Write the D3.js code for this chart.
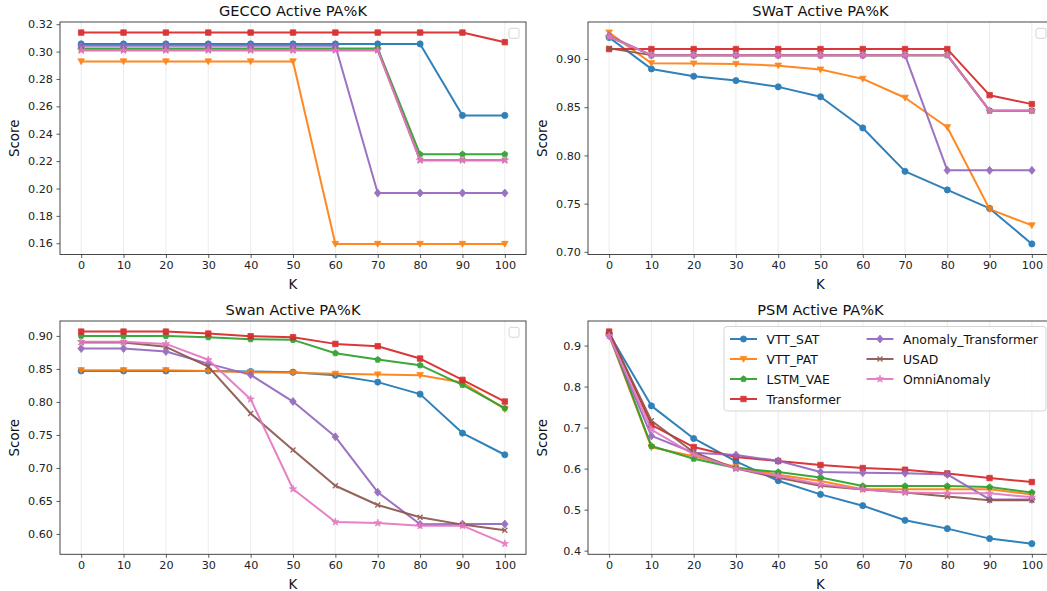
<!DOCTYPE html>
<html lang="en">
	<head>
		<meta charset="utf-8">
		<title>Active PA%K</title>
		<script type="text/javascript" src="https://cdn.jsdelivr.net/npm/d3@7"></script>
		<style type="text/css">
			body { margin: 0; background: #fff; }
			svg { font-family: "DejaVu Sans", sans-serif; display: block; }
		</style>
	</head>
	<body>
		<script type="text/javascript">

			// K values on the x axis
			var kValues = [0, 10, 20, 30, 40, 50, 60, 70, 80, 90, 100];
			var xTicks = [0, 10, 20, 30, 40, 50, 60, 70, 80, 90, 100];

			var seriesNames = ["VTT_SAT", "VTT_PAT", "LSTM_VAE", "Transformer", "Anomaly_Transformer", "USAD", "OmniAnomaly"];
			var seriesColors = ["#1f77b4", "#ff7f0e", "#2ca02c", "#d62728", "#9467bd", "#8c564b", "#e377c2"];
			var seriesMarkers = ["circle", "tri", "penta", "square", "diamond", "x", "star"];

			// GECCO
			var geccoSAT = [0.3056, 0.3056, 0.3056, 0.3056, 0.3056, 0.3056, 0.3056, 0.3056, 0.3056, 0.2534, 0.2534];
			var geccoPAT = [0.2928, 0.2928, 0.2928, 0.2928, 0.2928, 0.2928, 0.1595, 0.1595, 0.1595, 0.1595, 0.1595];
			var geccoLSTM = [0.3023, 0.3023, 0.3023, 0.3023, 0.3023, 0.3023, 0.3023, 0.3023, 0.2250, 0.2250, 0.2250];
			var geccoTrans = [0.3139, 0.3139, 0.3139, 0.3139, 0.3139, 0.3139, 0.3139, 0.3139, 0.3139, 0.3139, 0.3069];
			var geccoAT = [0.3042, 0.3042, 0.3042, 0.3042, 0.3042, 0.3042, 0.3042, 0.1967, 0.1967, 0.1967, 0.1967];
			var geccoUSAD = [0.3010, 0.3010, 0.3010, 0.3010, 0.3010, 0.3010, 0.3010, 0.3010, 0.2206, 0.2206, 0.2206];
			var geccoOmni = [0.3010, 0.3010, 0.3010, 0.3010, 0.3010, 0.3010, 0.3010, 0.3010, 0.2206, 0.2206, 0.2206];
			var geccoTicks = [0.16, 0.18, 0.20, 0.22, 0.24, 0.26, 0.28, 0.30, 0.32];

			// SWaT
			var swatSAT = [0.9223, 0.8897, 0.8821, 0.8776, 0.8711, 0.8608, 0.8285, 0.7835, 0.7642, 0.7450, 0.7082];
			var swatPAT = [0.9274, 0.8956, 0.8952, 0.8948, 0.8931, 0.8890, 0.8794, 0.8598, 0.8292, 0.7443, 0.7274];
			var swatLSTM = [0.9230, 0.9040, 0.9040, 0.9040, 0.9040, 0.9040, 0.9040, 0.9040, 0.9040, 0.8464, 0.8464];
			var swatTrans = [0.9103, 0.9103, 0.9103, 0.9103, 0.9103, 0.9103, 0.9103, 0.9103, 0.9103, 0.8625, 0.8532];
			var swatAT = [0.9240, 0.9040, 0.9040, 0.9040, 0.9040, 0.9040, 0.9040, 0.9040, 0.7845, 0.7845, 0.7845];
			var swatUSAD = [0.9110, 0.9040, 0.9040, 0.9040, 0.9040, 0.9040, 0.9040, 0.9040, 0.9040, 0.8464, 0.8464];
			var swatOmni = [0.9230, 0.9040, 0.9040, 0.9040, 0.9040, 0.9040, 0.9040, 0.9040, 0.9040, 0.8464, 0.8464];
			var swatTicks = [0.70, 0.75, 0.80, 0.85, 0.90];

			// Swan
			var swanSAT = [0.847, 0.847, 0.847, 0.847, 0.846, 0.845, 0.8405, 0.830, 0.8118, 0.7528, 0.720];
			var swanPAT = [0.848, 0.848, 0.848, 0.847, 0.845, 0.844, 0.8425, 0.8415, 0.8405, 0.8294, 0.789];
			var swanLSTM = [0.900, 0.900, 0.900, 0.898, 0.895, 0.894, 0.8738, 0.8641, 0.8556, 0.8259, 0.7906];
			var swanTrans = [0.9065, 0.9065, 0.9065, 0.9035, 0.8995, 0.898, 0.8879, 0.8844, 0.8657, 0.8334, 0.8006];
			var swanAT = [0.8808, 0.8808, 0.8763, 0.858, 0.841, 0.8006, 0.7472, 0.6633, 0.6147, 0.615, 0.615];
			var swanUSAD = [0.890, 0.890, 0.8834, 0.8535, 0.7825, 0.7271, 0.6731, 0.6439, 0.6253, 0.6142, 0.6057];
			var swanOmni = [0.891, 0.891, 0.8879, 0.8638, 0.8042, 0.6681, 0.6181, 0.6166, 0.6126, 0.6126, 0.5853];
			var swanTicks = [0.60, 0.65, 0.70, 0.75, 0.80, 0.85, 0.90];

			// PSM
			var psmSAT = [0.929, 0.753, 0.6735, 0.6175, 0.5705, 0.5372, 0.5097, 0.474, 0.4537, 0.4294, 0.417];
			var psmPAT = [0.925, 0.652, 0.630, 0.604, 0.585, 0.570, 0.550, 0.550, 0.550, 0.550, 0.537];
			var psmLSTM = [0.928, 0.655, 0.6241, 0.6014, 0.5916, 0.5785, 0.5575, 0.5575, 0.5575, 0.555, 0.542];
			var psmTrans = [0.934, 0.7069, 0.6526, 0.6282, 0.6185, 0.6087, 0.6014, 0.5973, 0.5883, 0.577, 0.5673];
			var psmAT = [0.924, 0.6797, 0.6387, 0.633, 0.619, 0.5916, 0.590, 0.589, 0.5858, 0.525, 0.525];
			var psmUSAD = [0.930, 0.7166, 0.640, 0.600, 0.578, 0.558, 0.549, 0.542, 0.532, 0.523, 0.523];
			var psmOmni = [0.9236, 0.695, 0.635, 0.600, 0.582, 0.562, 0.550, 0.542, 0.540, 0.540, 0.530];
			var psmTicks = [0.4, 0.5, 0.6, 0.7, 0.8, 0.9];

			var w = 1047;
			var h = 591;

			var panels = [
				{ title: "GECCO Active PA%K", series: [geccoSAT, geccoPAT, geccoLSTM, geccoTrans, geccoAT, geccoUSAD, geccoOmni], ticks: geccoTicks, fmt: ".2f", x0: 60, x1: 526, y0: 22, y1: 254.5, legend: false },
				{ title: "SWaT Active PA%K", series: [swatSAT, swatPAT, swatLSTM, swatTrans, swatAT, swatUSAD, swatOmni], ticks: swatTicks, fmt: ".2f", x0: 588, x1: 1053, y0: 22, y1: 254.5, legend: false },
				{ title: "Swan Active PA%K", series: [swanSAT, swanPAT, swanLSTM, swanTrans, swanAT, swanUSAD, swanOmni], ticks: swanTicks, fmt: ".2f", x0: 60, x1: 526, y0: 321, y1: 554.3, legend: false },
				{ title: "PSM Active PA%K", series: [psmSAT, psmPAT, psmLSTM, psmTrans, psmAT, psmUSAD, psmOmni], ticks: psmTicks, fmt: ".1f", x0: 588, x1: 1053, y0: 321, y1: 554.3, legend: true }
			];

			var svg = d3.select("body")
				.append("svg")
				.attr("width", w)
				.attr("height", h);

			// marker paths, centred on 0,0
			function markerPath(kind) {
				if (kind == "circle") return d3.symbol(d3.symbolCircle, 30)();
				if (kind == "square") return d3.symbol(d3.symbolSquare, 30)();
				if (kind == "star") return d3.symbol(d3.symbolStar, 17)();
				if (kind == "tri") return "M-3.3,-2.6L3.3,-2.6L0,3.2Z";
				if (kind == "diamond") return "M0,-4L3.3,0L0,4L-3.3,0Z";
				if (kind == "x") return "M-2.5,-2.5L2.5,2.5M-2.5,2.5L2.5,-2.5";
				if (kind == "penta") {
					var pts = [];
					for (var i = 0; i < 5; i++) {
						var a = -Math.PI / 2 + i * 2 * Math.PI / 5;
						pts.push([3.2 * Math.cos(a), 3.2 * Math.sin(a)]);
					}
					return "M" + pts.join("L") + "Z";
				}
			}

			function drawMarker(g, kind, color, x, y) {
				var p = g.append("path")
					.attr("d", markerPath(kind))
					.attr("transform", "translate(" + x + "," + y + ")");
				if (kind == "x") {
					p.attr("fill", "none").attr("stroke", color).attr("stroke-width", 1.3);
				} else {
					p.attr("fill", color).attr("stroke", color).attr("stroke-width", 0.8);
				}
			}

			panels.forEach(function(pn) {
				var all = [];
				pn.series.forEach(function(s) { all = all.concat(s); });
				var lo = d3.min(all), hi = d3.max(all);
				var pad = (hi - lo) * 0.05;

				var xScale = d3.scaleLinear()
					.domain([-5, 105])
					.range([pn.x0, pn.x1]);

				var yScale = d3.scaleLinear()
					.domain([lo - pad, hi + pad])
					.range([pn.y1, pn.y0]);

				var g = svg.append("g");

				// vertical grid
				g.selectAll("line.grid")
					.data(xTicks)
					.enter()
					.append("line")
					.attr("x1", function(d) { return xScale(d); })
					.attr("x2", function(d) { return xScale(d); })
					.attr("y1", pn.y0)
					.attr("y2", pn.y1)
					.attr("stroke", "#b0b0b0")
					.attr("stroke-opacity", 0.3)
					.attr("stroke-width", 0.8);

				var xAxis = d3.axisBottom(xScale)
					.tickValues(xTicks)
					.tickSize(3.5)
					.tickPadding(3.5);

				var yAxis = d3.axisLeft(yScale)
					.tickValues(pn.ticks)
					.tickFormat(d3.format(pn.fmt))
					.tickSize(3.5)
					.tickPadding(3.5);

				var gx = g.append("g")
					.attr("transform", "translate(0," + pn.y1 + ")")
					.call(xAxis);
				var gy = g.append("g")
					.attr("transform", "translate(" + pn.x0 + ",0)")
					.call(yAxis);

				[gx, gy].forEach(function(ax) {
					ax.select(".domain").remove();
					ax.selectAll("line").attr("stroke", "#333").attr("stroke-width", 0.8);
					ax.selectAll("text")
						.attr("font-size", "11.2px")
						.attr("font-family", "DejaVu Sans, sans-serif")
						.attr("fill", "#222");
				});

				// lines + markers
				var line = d3.line()
					.x(function(d, i) { return xScale(kValues[i]); })
					.y(function(d) { return yScale(d); });

				pn.series.forEach(function(vals, si) {
					var sg = g.append("g").attr("opacity", 0.92);
					sg.append("path")
						.datum(vals)
						.attr("d", line)
						.attr("fill", "none")
						.attr("stroke", seriesColors[si])
						.attr("stroke-width", 2)
						.attr("stroke-linejoin", "round");
					vals.forEach(function(v, i) {
						drawMarker(sg, seriesMarkers[si], seriesColors[si], xScale(kValues[i]), yScale(v));
					});
				});

				// spines
				g.append("rect")
					.attr("x", pn.x0)
					.attr("y", pn.y0)
					.attr("width", pn.x1 - pn.x0)
					.attr("height", pn.y1 - pn.y0)
					.attr("fill", "none")
					.attr("stroke", "#333")
					.attr("stroke-width", 0.9);

				// title and labels
				g.append("text")
					.attr("x", (pn.x0 + pn.x1) / 2)
					.attr("y", pn.y0 - 6)
					.attr("text-anchor", "middle")
					.attr("font-size", "14.6px")
					.attr("fill", "#111")
					.text(pn.title);

				g.append("text")
					.attr("x", (pn.x0 + pn.x1) / 2)
					.attr("y", pn.y1 + 34.5)
					.attr("text-anchor", "middle")
					.attr("font-size", "13.4px")
					.attr("fill", "#111")
					.text("K");

				g.append("text")
					.attr("transform", "translate(" + (pn.x0 - 41) + "," + ((pn.y0 + pn.y1) / 2) + ") rotate(-90)")
					.attr("text-anchor", "middle")
					.attr("font-size", "13.4px")
					.attr("fill", "#111")
					.text("Score");

				if (!pn.legend) {
					// empty legend box
					g.append("rect")
						.attr("x", pn.x1 - 17)
						.attr("y", pn.y0 + 6.3)
						.attr("width", 10)
						.attr("height", 10)
						.attr("rx", 2)
						.attr("fill", "#fff")
						.attr("fill-opacity", 0.8)
						.attr("stroke", "#d0d0d0")
						.attr("stroke-width", 0.9);
				} else {
					var lx = 724, ly = pn.y0 + 5.5;
					var lg = g.append("g");
					lg.append("rect")
						.attr("x", lx)
						.attr("y", ly)
						.attr("width", pn.x1 - 7 - lx)
						.attr("height", 84.5)
						.attr("rx", 3)
						.attr("fill", "#fff")
						.attr("fill-opacity", 0.8)
						.attr("stroke", "#d0d0d0")
						.attr("stroke-width", 0.9);
					seriesNames.forEach(function(name, si) {
						var col = si < 4 ? 0 : 1;
						var row = si < 4 ? si : si - 4;
						var hx = col == 0 ? lx + 6 : lx + 142.5;
						var cy = ly + 12.5 + row * 20;
						var eg = lg.append("g").attr("opacity", 0.92);
						eg.append("line")
							.attr("x1", hx)
							.attr("x2", hx + 27)
							.attr("y1", cy)
							.attr("y2", cy)
							.attr("stroke", seriesColors[si])
							.attr("stroke-width", 2);
						drawMarker(eg, seriesMarkers[si], seriesColors[si], hx + 13.5, cy);
						lg.append("text")
							.attr("x", hx + 36.5)
							.attr("y", cy + 4.5)
							.attr("font-size", "12.4px")
							.attr("fill", "#111")
							.text(name);
					});
				}
			});

		</script>
	</body>
</html>
